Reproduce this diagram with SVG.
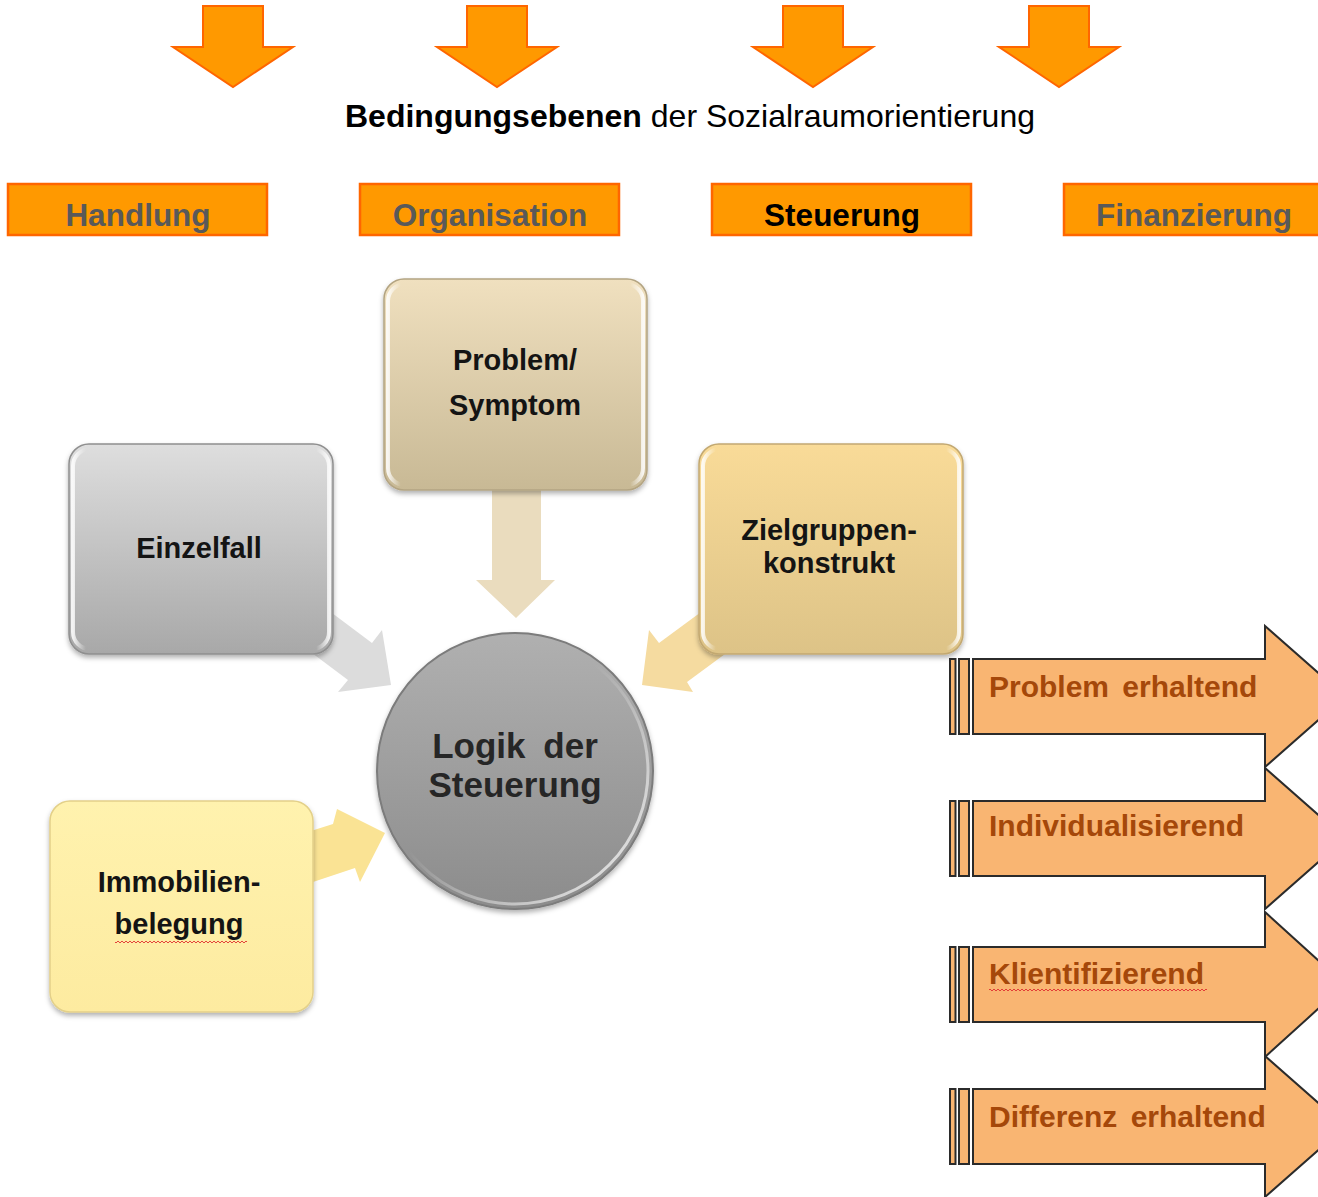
<svg xmlns="http://www.w3.org/2000/svg" width="1318" height="1197" viewBox="0 0 1318 1197">
  <style>
    .txt { font-family: "Liberation Sans", Arial, sans-serif; }
    .down { fill: #FF9900; stroke: #FF6600; stroke-width: 2; stroke-linejoin: miter; }
    .level { fill: #FF9900; stroke: #FF6600; stroke-width: 2.5; }
    .level-label { font-family: "Liberation Sans", Arial, sans-serif; font-weight: bold; font-size: 31.5px; text-anchor: middle; fill: #595959; }
    .node-label { font-family: "Liberation Sans", Arial, sans-serif; font-weight: bold; font-size: 29px; text-anchor: middle; fill: #141414; }
    .center-label { font-family: "Liberation Sans", Arial, sans-serif; font-weight: bold; font-size: 35px; text-anchor: middle; fill: #262626; word-spacing: 8px; }
    .outcome { fill: #F9B572; stroke: #2b2b2b; stroke-width: 2; stroke-linejoin: miter; }
    .outcome-label { font-family: "Liberation Sans", Arial, sans-serif; font-weight: bold; font-size: 30px; fill: #A5480A; word-spacing: 5px; }
    .bevel { fill: none; stroke: url(#bevelHi); stroke-width: 4; }
  </style>
  <defs>
    <linearGradient id="gTan" x1="0" y1="0" x2="0" y2="1">
      <stop offset="0" stop-color="#F0E0BF"/>
      <stop offset="1" stop-color="#C8B995"/>
    </linearGradient>
    <linearGradient id="gGray" x1="0" y1="0" x2="0" y2="1">
      <stop offset="0" stop-color="#DEDEDE"/>
      <stop offset="1" stop-color="#A8A8A8"/>
    </linearGradient>
    <linearGradient id="gGold" x1="0" y1="0" x2="0" y2="1">
      <stop offset="0" stop-color="#F9DB98"/>
      <stop offset="1" stop-color="#DDC387"/>
    </linearGradient>
    <linearGradient id="gYellow" x1="0" y1="0" x2="0" y2="1">
      <stop offset="0" stop-color="#FFF2AE"/>
      <stop offset="1" stop-color="#FDEBA0"/>
    </linearGradient>
    <linearGradient id="gCircle" x1="0" y1="0" x2="0" y2="1">
      <stop offset="0" stop-color="#B0B0B0"/>
      <stop offset="1" stop-color="#8C8C8C"/>
    </linearGradient>
    <linearGradient id="bevelHi" x1="0" y1="0" x2="1" y2="0">
      <stop offset="0" stop-color="#ffffff" stop-opacity="0.85"/>
      <stop offset="0.05" stop-color="#ffffff" stop-opacity="0"/>
      <stop offset="0.95" stop-color="#ffffff" stop-opacity="0"/>
      <stop offset="1" stop-color="#ffffff" stop-opacity="0.85"/>
    </linearGradient>
    <linearGradient id="rimHi" x1="0" y1="0" x2="1" y2="1">
      <stop offset="0.45" stop-color="#ffffff" stop-opacity="0"/>
      <stop offset="1" stop-color="#ffffff" stop-opacity="0.9"/>
    </linearGradient>
    <filter id="shadow" x="-10%" y="-10%" width="120%" height="125%">
      <feDropShadow dx="0" dy="3" stdDeviation="2.5" flood-color="#000" flood-opacity="0.3"/>
    </filter>
    <pattern id="squiggle" width="4" height="4" patternUnits="userSpaceOnUse">
      <path d="M0 3 L2 1 L4 3" fill="none" stroke="#E03030" stroke-width="0.9"/>
    </pattern>
  </defs>

  <rect width="1318" height="1197" fill="#ffffff"/>

  <!-- down arrows above the heading -->
  <g id="down-arrows">
    <polygon class="down" points="203,6 263,6 263,47 293,47 233,87 173,47 203,47"/>
    <polygon class="down" points="467,6 527,6 527,47 557,47 497,87 437,47 467,47"/>
    <polygon class="down" points="783,6 843,6 843,47 873,47 813,87 753,47 783,47"/>
    <polygon class="down" points="1029,6 1089,6 1089,47 1119,47 1059,87 999,47 1029,47"/>
  </g>

  <text id="heading" class="txt" x="690" y="127" font-size="32" text-anchor="middle" fill="#000"><tspan font-weight="bold">Bedingungsebenen</tspan> der Sozialraumorientierung</text>

  <!-- levels -->
  <g id="level-handlung">
    <rect class="level" x="8" y="184" width="259" height="51"/>
    <text class="level-label" x="138" y="226">Handlung</text>
  </g>
  <g id="level-organisation">
    <rect class="level" x="360" y="184" width="259" height="51"/>
    <text class="level-label" x="490" y="226">Organisation</text>
  </g>
  <g id="level-steuerung">
    <rect class="level" x="712" y="184" width="259" height="51"/>
    <text class="level-label" x="842" y="226" style="fill:#000">Steuerung</text>
  </g>
  <g id="level-finanzierung">
    <rect class="level" x="1064" y="184" width="262" height="51"/>
    <text class="level-label" x="1194" y="226">Finanzierung</text>
  </g>

  <!-- connectors into the central circle -->
  <g id="connectors">
    <polygon points="492,486 541,486 541,580 555,580 516,618 476,580 492,580" fill="#EADCBE"/>
    <polygon points="292,583 372,643 382,630 391,685 338,692 348,680 268,620" fill="#DCDCDC"/>
    <polygon points="735,587 659,643 649,630 642,685 693,692 687,682 763,626" fill="#F5DBA0"/>
    <polygon points="295,836 333,824 337,809 385,833 360,882 355,868 295,888" fill="#FAE394"/>
  </g>

  <!-- nodes -->
  <g id="node-problem">
    <rect x="384" y="279" width="263" height="211" rx="20" fill="url(#gTan)" stroke="#B3A482" stroke-width="1.5" filter="url(#shadow)"/>
    <rect class="bevel" x="388" y="284" width="255" height="201" rx="17"/>
    <text class="node-label" x="515" y="370">Problem/</text>
    <text class="node-label" x="515" y="415">Symptom</text>
  </g>

  <g id="node-einzelfall">
    <rect x="69" y="444" width="264" height="210" rx="20" fill="url(#gGray)" stroke="#8F8F8F" stroke-width="1.5" filter="url(#shadow)"/>
    <rect class="bevel" x="73" y="449" width="256" height="200" rx="17"/>
    <text class="node-label" x="199" y="558">Einzelfall</text>
  </g>

  <g id="node-zielgruppen">
    <rect x="699" y="444" width="264" height="210" rx="20" fill="url(#gGold)" stroke="#C2A871" stroke-width="1.5" filter="url(#shadow)"/>
    <rect class="bevel" x="703" y="449" width="256" height="200" rx="17"/>
    <text class="node-label" x="829" y="540">Zielgruppen-</text>
    <text class="node-label" x="829" y="573">konstrukt</text>
  </g>

  <g id="node-immobilien">
    <rect x="50" y="801" width="263" height="211" rx="20" fill="url(#gYellow)" stroke="#E3D089" stroke-width="1.5" filter="url(#shadow)"/>
    <text class="node-label" x="179" y="892">Immobilien-</text>
    <text class="node-label" x="179" y="934">belegung</text>
    <rect x="115" y="941" width="132" height="4" fill="url(#squiggle)"/>
  </g>

  <g id="node-logik">
    <circle cx="515" cy="771" r="138" fill="url(#gCircle)" stroke="#7B7B7B" stroke-width="2" filter="url(#shadow)"/>
    <circle cx="515" cy="771" r="133" fill="none" stroke="url(#rimHi)" stroke-width="3"/>
    <text class="center-label" x="515" y="758">Logik der</text>
    <text class="center-label" x="515" y="797">Steuerung</text>
  </g>

  <!-- outcome arrows on the right -->
  <g id="outcome-problem-erhaltend">
    <rect class="outcome" x="950" y="659" width="5.5" height="75"/>
    <rect class="outcome" x="959" y="659" width="10" height="75"/>
    <polygon class="outcome" points="973,659 1265,659 1265,626 1345,696.5 1265,767 1265,734 973,734"/>
    <text class="outcome-label" x="989" y="697">Problem erhaltend</text>
  </g>
  <g id="outcome-individualisierend">
    <rect class="outcome" x="950" y="801" width="5.5" height="75"/>
    <rect class="outcome" x="959" y="801" width="10" height="75"/>
    <polygon class="outcome" points="973,801 1265,801 1265,768 1345,838.5 1265,909 1265,876 973,876"/>
    <text class="outcome-label" x="989" y="836">Individualisierend</text>
  </g>
  <g id="outcome-klientifizierend">
    <rect class="outcome" x="950" y="947" width="5.5" height="75"/>
    <rect class="outcome" x="959" y="947" width="10" height="75"/>
    <polygon class="outcome" points="973,947 1265,947 1265,912 1345,984.5 1265,1057 1265,1022 973,1022"/>
    <text class="outcome-label" x="989" y="984">Klientifizierend</text>
    <rect x="989" y="988" width="218" height="4" fill="url(#squiggle)"/>
  </g>
  <g id="outcome-differenz-erhaltend">
    <rect class="outcome" x="950" y="1089" width="5.5" height="75"/>
    <rect class="outcome" x="959" y="1089" width="10" height="75"/>
    <polygon class="outcome" points="973,1089 1265,1089 1265,1056 1345,1126.5 1265,1197 1265,1164 973,1164"/>
    <text class="outcome-label" x="989" y="1127">Differenz erhaltend</text>
  </g>
</svg>
